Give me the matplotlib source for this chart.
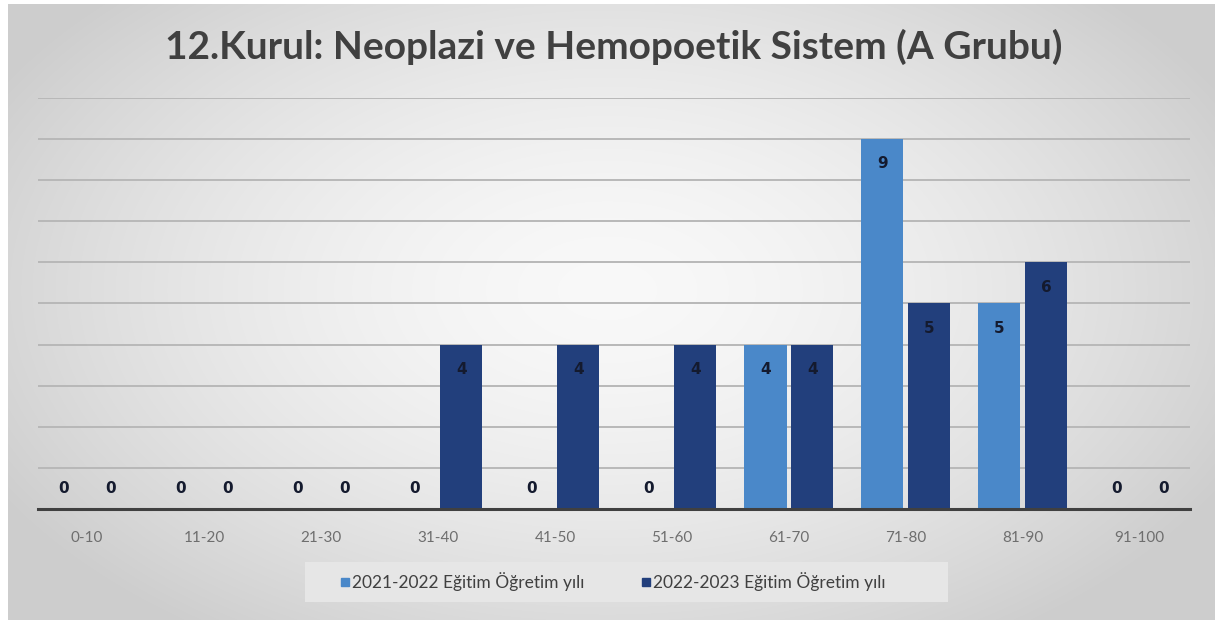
import numpy as np
import matplotlib
matplotlib.use("Agg")
import matplotlib.pyplot as plt
from matplotlib.lines import Line2D
from matplotlib.patches import Rectangle

categories = ["0-10", "11-20", "21-30", "31-40", "41-50", "51-60", "61-70", "71-80", "81-90", "91-100"]
series_2021 = [0, 0, 0, 0, 0, 0, 4, 9, 5, 0]
series_2022 = [0, 0, 0, 4, 4, 4, 4, 5, 6, 0]
labels = ["2021-2022 Eğitim Öğretim yılı", "2022-2023 Eğitim Öğretim yılı"]
title = "12.Kurul: Neoplazi ve Hemopoetik Sistem (A Grubu)"

c_light = "#4a88c9"
c_dark = "#223f7c"

plt.rcParams['font.family'] = ['Lato', 'DejaVu Sans']

fig = plt.figure(figsize=(12.15, 6.2), dpi=100)

# radial gradient background
bg = fig.add_axes([0, 0, 1, 1], zorder=-10)
H, W = 620, 1215
yy, xx = np.mgrid[0:H, 0:W]
r = np.sqrt(((xx - 607) / 700.0) ** 2 + ((yy - 290) / 420.0) ** 2)
r = np.clip(r, 0, 1)
val = 0.975 - 0.17 * r ** 1.6
img = np.dstack([val, val, val])
img[:, :8] = 1.0
img[:4, :] = 1.0
bg.imshow(img, aspect='auto', extent=[0, 1, 0, 1], origin='upper')
bg.set_axis_off()

ax = fig.add_axes([38 / 1215, 111 / 620, 1152 / 1215, 411 / 620])
ax.patch.set_alpha(0)

x = np.arange(len(categories))
w = 0.36
off = 0.2
ax.bar(x - off, series_2021, width=w, color=c_light, zorder=3)
ax.bar(x + off, series_2022, width=w, color=c_dark, zorder=3)

for xs, vals in ((x - off, series_2021), (x + off, series_2022)):
    for xi, v in zip(xs, vals):
        yv = v - 0.6 if v > 0 else 0.5
        ax.text(xi, yv, str(v), ha='center', va='center', fontsize=11,
                fontweight='bold', color='#141a2e', zorder=5,
                family=['DejaVu Sans'])

ax.set_xlim(-0.42, 9.43)
ax.set_ylim(0, 10)
ax.set_yticks(range(1, 11))
ax.yaxis.grid(True, color='#b8b8b8', linewidth=1.4, zorder=0)
ax.tick_params(axis='y', left=False, labelleft=False)
ax.tick_params(axis='x', bottom=False, labelsize=11, labelcolor='#6e6e6e', pad=12)
ax.set_xticks(x)
ax.set_xticklabels(categories)
for s in ['top', 'right', 'left']:
    ax.spines[s].set_visible(False)
ax.spines['bottom'].set_color('#404040')
ax.spines['bottom'].set_linewidth(2.2)
ax.spines['bottom'].set_zorder(4)

fig.text(0.505, 1 - 47 / 620, title, ha='center', va='center', fontsize=28,
         fontweight='bold', color='#404040')

# legend box
fig.patches.append(Rectangle((305 / 1215, 18 / 620), 643 / 1215, 40 / 620,
                             transform=fig.transFigure, facecolor='#e6e6e6',
                             edgecolor='none', zorder=1))

handles = [Line2D([], [], marker='s', linestyle='none', markersize=6, color=c_light),
           Line2D([], [], marker='s', linestyle='none', markersize=6, color=c_dark)]
leg = fig.legend(handles, labels, loc='center', bbox_to_anchor=(612 / 1215, 38 / 620),
                 ncol=2, fontsize=12.5, frameon=False,
                 handletextpad=0.05, columnspacing=3.2, handlelength=0.7)
for t in leg.get_texts():
    t.set_color('#404040')

fig.savefig("out.png", dpi=100)
